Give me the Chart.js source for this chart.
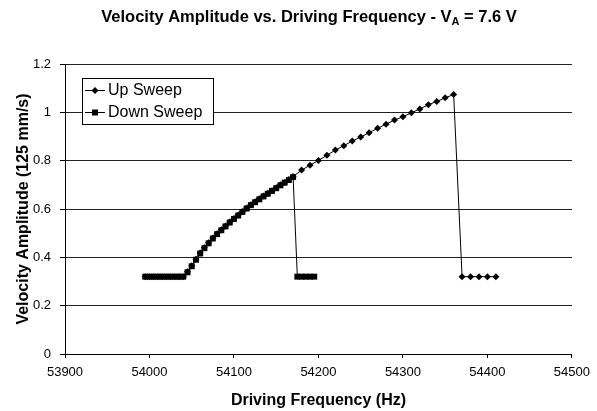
<!DOCTYPE html>
<html>
<head>
<meta charset="utf-8">
<script src="https://cdn.jsdelivr.net/npm/chart.js@4.4.0/dist/chart.umd.min.js"></script>
<style>
  html, body { margin: 0; padding: 0; background: #fff; }
  #wrap { width: 597px; height: 411px; position: relative; }
</style>
</head>
<body>
<div id="wrap"><canvas id="chart"></canvas></div>
<script>
// Values

// Up sweep (diamonds)
const upFreq = [53995, 54000, 54005, 54010, 54015, 54020, 54025, 54030, 54035, 54040,
    54045, 54050, 54055, 54060, 54065, 54070, 54075, 54080, 54085, 54090,
    54095, 54100, 54105, 54110, 54115, 54120, 54125, 54130, 54135, 54140,
    54145, 54150, 54155, 54160, 54165, 54170,
    54180, 54190, 54200, 54210, 54220, 54230, 54240, 54250, 54260, 54270,
    54280, 54290, 54300, 54310, 54320, 54330, 54340, 54350, 54360,
    54370, 54380, 54390, 54400, 54410];
const upAmp = [0.32, 0.32, 0.32, 0.32, 0.32, 0.32, 0.32, 0.32, 0.32, 0.32,
    0.340, 0.365, 0.392, 0.418, 0.440, 0.460, 0.480, 0.498, 0.514, 0.530,
    0.546, 0.561, 0.575, 0.590, 0.604, 0.618, 0.630, 0.642, 0.654, 0.665,
    0.676, 0.688, 0.700, 0.710, 0.722, 0.734,
    0.761, 0.781, 0.801, 0.822, 0.844, 0.862, 0.881, 0.898, 0.916, 0.934,
    0.951, 0.968, 0.982, 0.998, 1.014, 1.031, 1.045, 1.060, 1.074,
    0.32, 0.32, 0.32, 0.32, 0.32];

// Down sweep (squares)
const downFreq = [54195, 54190, 54185, 54180, 54175,
    54170, 54165, 54160, 54155, 54150, 54145, 54140, 54135, 54130, 54125,
    54120, 54115, 54110, 54105, 54100, 54095, 54090, 54085, 54080, 54075,
    54070, 54065, 54060, 54055, 54050, 54045,
    54040, 54035, 54030, 54025, 54020, 54015, 54010, 54005, 54000, 53995];
const downAmp = [0.32, 0.32, 0.32, 0.32, 0.32,
    0.732, 0.720, 0.709, 0.698, 0.686, 0.675, 0.663, 0.652, 0.640, 0.628,
    0.616, 0.602, 0.588, 0.573, 0.559, 0.544, 0.528, 0.512, 0.496, 0.478,
    0.458, 0.438, 0.416, 0.390, 0.363, 0.338,
    0.32, 0.32, 0.32, 0.32, 0.32, 0.32, 0.32, 0.32, 0.32, 0.32];

const seriesNames = ['Up Sweep', 'Down Sweep'];
const xTicks = [53900, 54000, 54100, 54200, 54300, 54400, 54500];
const yTicks = [0, 0.2, 0.4, 0.6, 0.8, 1, 1.2];

const FONT = "'Liberation Sans', Arial, sans-serif";

function toPoints(xs, ys) {
    return xs.map((x, i) => ({ x: x, y: ys[i] }));
}

function drawMarker(ctx, style, x, y) {
    ctx.beginPath();
    if (style === 'rectRot') {
        ctx.moveTo(x, y - 3.5);
        ctx.lineTo(x + 3.5, y);
        ctx.lineTo(x, y + 3.5);
        ctx.lineTo(x - 3.5, y);
        ctx.closePath();
    } else {
        ctx.rect(x - 3, y - 3, 6, 6);
    }
    ctx.fill();
}

// Title with the subscript A
const titlePlugin = {
    id: 'subTitle',
    afterDraw(chart) {
        const ctx = chart.ctx;
        const big = 'bold 16.5px ' + FONT;
        const small = 'bold 11px ' + FONT;
        const part1 = 'Velocity Amplitude vs. Driving Frequency - V';
        const sub = 'A';
        const part2 = ' = 7.6 V';
        ctx.save();
        ctx.fillStyle = '#000';
        ctx.textBaseline = 'alphabetic';
        ctx.textAlign = 'left';
        ctx.font = big;
        const w1 = ctx.measureText(part1).width;
        const w3 = ctx.measureText(part2).width;
        ctx.font = small;
        const w2 = ctx.measureText(sub).width;
        let x = 309 - (w1 + w2 + w3) / 2;
        const y = 22;
        ctx.font = big;
        ctx.fillText(part1, x, y);
        x += w1;
        ctx.font = small;
        ctx.fillText(sub, x, y + 3);
        x += w2;
        ctx.font = big;
        ctx.fillText(part2, x, y);
        ctx.restore();
    }
};

// Boxed legend inside the plot area
const legendPlugin = {
    id: 'boxLegend',
    afterDraw(chart) {
        const ctx = chart.ctx;
        const bx = 82, by = 78, bw = 131, bh = 46;
        ctx.save();
        ctx.fillStyle = '#fff';
        ctx.fillRect(bx, by, bw, bh);
        ctx.strokeStyle = '#000';
        ctx.lineWidth = 1;
        ctx.strokeRect(bx + 0.5, by + 0.5, bw, bh);
        chart.data.datasets.forEach((ds, i) => {
            const cy = by + 12 + i * 22;
            ctx.beginPath();
            ctx.moveTo(bx + 3, cy + 0.5);
            ctx.lineTo(bx + 23, cy + 0.5);
            ctx.stroke();
            ctx.fillStyle = '#000';
            drawMarker(ctx, ds.pointStyle, bx + 13, cy + 0.5);
            ctx.font = '16px ' + FONT;
            ctx.textBaseline = 'middle';
            ctx.textAlign = 'left';
            ctx.fillText(ds.label, bx + 26, cy + 1);
        });
        ctx.restore();
    }
};

const ctx = document.getElementById('chart').getContext('2d');

new Chart(ctx, {
    type: 'scatter',
    data: {
        datasets: [
            {
                label: seriesNames[0],
                data: toPoints(upFreq, upAmp),
                showLine: true,
                borderColor: '#000',
                borderWidth: 1,
                backgroundColor: '#000',
                pointStyle: 'rectRot',
                pointRadius: 3.5,
                pointBorderWidth: 0,
                order: 1
            },
            {
                label: seriesNames[1],
                data: toPoints(downFreq, downAmp),
                showLine: true,
                borderColor: '#000',
                borderWidth: 1,
                backgroundColor: '#000',
                pointStyle: 'rect',
                pointRadius: 4.2,
                pointBorderWidth: 0,
                order: 0
            }
        ]
    },
    options: {
        responsive: true,
        maintainAspectRatio: false,
        animation: false,
        events: [],
        layout: {
            padding: { top: 64, right: 20, left: 0, bottom: 0 }
        },
        plugins: {
            legend: { display: false },
            title: { display: false },
            tooltip: { enabled: false }
        },
        scales: {
            x: {
                type: 'linear',
                min: 53900,
                max: 54500,
                afterFit: s => { s.height = 57; },
                afterBuildTicks: s => { s.ticks = xTicks.map(v => ({ value: v })); },
                grid: {
                    drawOnChartArea: false,
                    drawTicks: true,
                    tickLength: 4,
                    tickColor: '#000'
                },
                border: { display: true, color: '#000', width: 1 },
                ticks: {
                    padding: 7,
                    maxRotation: 0,
                    color: '#000',
                    font: { family: FONT, size: 13 },
                    callback: v => String(v)
                },
                title: {
                    display: true,
                    text: 'Driving Frequency (Hz)',
                    color: '#000',
                    font: { family: FONT, size: 16, weight: 'bold' },
                    padding: { top: 0, bottom: 1 }
                }
            },
            y: {
                min: 0,
                max: 1.2,
                afterFit: s => { s.width = 65; },
                afterBuildTicks: s => { s.ticks = yTicks.map(v => ({ value: v })); },
                grid: {
                    color: '#222',
                    drawTicks: true,
                    tickLength: 5,
                    tickColor: '#000'
                },
                border: { display: true, color: '#000', width: 1 },
                ticks: {
                    padding: 9,
                    color: '#000',
                    font: { family: FONT, size: 13 },
                    callback: v => String(Number(v.toFixed(1)))
                },
                title: {
                    display: true,
                    text: 'Velocity Amplitude (125 mm/s)',
                    color: '#000',
                    font: { family: FONT, size: 16, weight: 'bold' },
                    padding: { top: 14, bottom: 0 }
                }
            }
        }
    },
    plugins: [titlePlugin, legendPlugin]
});
</script>
</body>
</html>
